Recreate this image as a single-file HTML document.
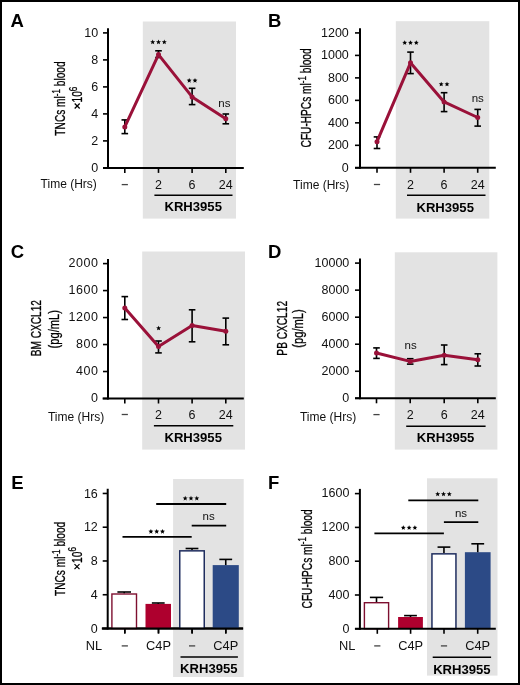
<!DOCTYPE html>
<html><head><meta charset="utf-8"><style>
html,body{margin:0;padding:0;background:#fff;}
.fig{position:relative;width:520px;height:685px;box-sizing:border-box;border:2px solid #000;background:#fff;overflow:hidden;}
svg{position:absolute;left:-2px;top:-2px;}
svg text{font-family:"Liberation Sans", sans-serif;}
svg{will-change:transform;}
</style></head><body>
<div class="fig"><svg width="520" height="685" viewBox="0 0 520 685">
<rect x="142.80" y="21.50" width="93.20" height="197.10" fill="#e3e3e3" stroke="none" stroke-width="0"/>
<text x="10.50" y="26.80" font-size="18.5" text-anchor="start" font-weight="bold" fill="#000" >A</text>
<line x1="108.00" y1="28.20" x2="108.00" y2="168.90" stroke="#000" stroke-width="2.0" stroke-linecap="butt"/>
<line x1="103.00" y1="167.90" x2="108.00" y2="167.90" stroke="#000" stroke-width="1.6" stroke-linecap="butt"/>
<text x="98.10" y="171.64" font-size="12.5" text-anchor="end" font-weight="normal" fill="#111" >0</text>
<line x1="103.00" y1="140.90" x2="108.00" y2="140.90" stroke="#000" stroke-width="1.6" stroke-linecap="butt"/>
<text x="98.10" y="144.64" font-size="12.5" text-anchor="end" font-weight="normal" fill="#111" >2</text>
<line x1="103.00" y1="113.90" x2="108.00" y2="113.90" stroke="#000" stroke-width="1.6" stroke-linecap="butt"/>
<text x="98.10" y="117.64" font-size="12.5" text-anchor="end" font-weight="normal" fill="#111" >4</text>
<line x1="103.00" y1="86.90" x2="108.00" y2="86.90" stroke="#000" stroke-width="1.6" stroke-linecap="butt"/>
<text x="98.10" y="90.64" font-size="12.5" text-anchor="end" font-weight="normal" fill="#111" >6</text>
<line x1="103.00" y1="59.90" x2="108.00" y2="59.90" stroke="#000" stroke-width="1.6" stroke-linecap="butt"/>
<text x="98.10" y="63.64" font-size="12.5" text-anchor="end" font-weight="normal" fill="#111" >8</text>
<line x1="103.00" y1="32.90" x2="108.00" y2="32.90" stroke="#000" stroke-width="1.6" stroke-linecap="butt"/>
<text x="98.10" y="36.64" font-size="12.5" text-anchor="end" font-weight="normal" fill="#111" >10</text>
<line x1="103.00" y1="167.90" x2="243.80" y2="167.90" stroke="#000" stroke-width="2.0" stroke-linecap="butt"/>
<line x1="124.80" y1="167.90" x2="124.80" y2="172.90" stroke="#000" stroke-width="1.6" stroke-linecap="butt"/>
<line x1="158.50" y1="167.90" x2="158.50" y2="172.90" stroke="#000" stroke-width="1.6" stroke-linecap="butt"/>
<line x1="192.10" y1="167.90" x2="192.10" y2="172.90" stroke="#000" stroke-width="1.6" stroke-linecap="butt"/>
<line x1="225.80" y1="167.90" x2="225.80" y2="172.90" stroke="#000" stroke-width="1.6" stroke-linecap="butt"/>
<text x="96.80" y="188.20" font-size="12" text-anchor="end" font-weight="normal" fill="#111" >Time (Hrs)</text>
<line x1="121.70" y1="184.60" x2="127.90" y2="184.60" stroke="#444" stroke-width="1.3" stroke-linecap="butt"/>
<text x="158.50" y="188.80" font-size="12.5" text-anchor="middle" font-weight="normal" fill="#111" >2</text>
<text x="192.10" y="188.80" font-size="12.5" text-anchor="middle" font-weight="normal" fill="#111" >6</text>
<text x="225.80" y="188.80" font-size="12.5" text-anchor="middle" font-weight="normal" fill="#111" >24</text>
<line x1="154.40" y1="195.20" x2="232.50" y2="195.20" stroke="#000" stroke-width="1.5" stroke-linecap="butt"/>
<text x="193.20" y="211.20" font-size="13.1" text-anchor="middle" font-weight="bold" fill="#000" >KRH3955</text>
<line x1="124.80" y1="119.90" x2="124.80" y2="133.60" stroke="#000" stroke-width="1.6" stroke-linecap="butt"/>
<line x1="121.50" y1="119.90" x2="128.10" y2="119.90" stroke="#000" stroke-width="1.6" stroke-linecap="butt"/>
<line x1="121.50" y1="133.60" x2="128.10" y2="133.60" stroke="#000" stroke-width="1.6" stroke-linecap="butt"/>
<line x1="158.50" y1="50.80" x2="158.50" y2="57.50" stroke="#000" stroke-width="1.6" stroke-linecap="butt"/>
<line x1="155.20" y1="50.80" x2="161.80" y2="50.80" stroke="#000" stroke-width="1.6" stroke-linecap="butt"/>
<line x1="155.20" y1="57.50" x2="161.80" y2="57.50" stroke="#000" stroke-width="1.6" stroke-linecap="butt"/>
<line x1="192.10" y1="88.30" x2="192.10" y2="104.60" stroke="#000" stroke-width="1.6" stroke-linecap="butt"/>
<line x1="188.80" y1="88.30" x2="195.40" y2="88.30" stroke="#000" stroke-width="1.6" stroke-linecap="butt"/>
<line x1="188.80" y1="104.60" x2="195.40" y2="104.60" stroke="#000" stroke-width="1.6" stroke-linecap="butt"/>
<line x1="225.80" y1="114.00" x2="225.80" y2="123.80" stroke="#000" stroke-width="1.6" stroke-linecap="butt"/>
<line x1="222.50" y1="114.00" x2="229.10" y2="114.00" stroke="#000" stroke-width="1.6" stroke-linecap="butt"/>
<line x1="222.50" y1="123.80" x2="229.10" y2="123.80" stroke="#000" stroke-width="1.6" stroke-linecap="butt"/>
<path d="M124.80,126.90 L158.50,54.60 L192.10,96.90 L225.80,118.80" fill="none" stroke="#9a1139" stroke-width="3.0" stroke-linejoin="round" stroke-linecap="round"/>
<circle cx="124.80" cy="126.90" r="2.5" fill="#9a1139"/>
<circle cx="158.50" cy="54.60" r="2.5" fill="#9a1139"/>
<circle cx="192.10" cy="96.90" r="2.5" fill="#9a1139"/>
<circle cx="225.80" cy="118.80" r="2.5" fill="#9a1139"/>
<path d="M152.70,39.55 L153.38,41.22 L155.17,41.35 L153.79,42.51 L154.23,44.25 L152.70,43.30 L151.17,44.25 L151.61,42.51 L150.23,41.35 L152.02,41.22Z M158.50,39.55 L159.18,41.22 L160.97,41.35 L159.59,42.51 L160.03,44.25 L158.50,43.30 L156.97,44.25 L157.41,42.51 L156.03,41.35 L157.82,41.22Z M164.30,39.55 L164.98,41.22 L166.77,41.35 L165.39,42.51 L165.83,44.25 L164.30,43.30 L162.77,44.25 L163.21,42.51 L161.83,41.35 L163.62,41.22Z" fill="#000"/>
<path d="M189.20,77.95 L189.88,79.62 L191.67,79.75 L190.29,80.91 L190.73,82.65 L189.20,81.70 L187.67,82.65 L188.11,80.91 L186.73,79.75 L188.52,79.62Z M195.00,77.95 L195.68,79.62 L197.47,79.75 L196.09,80.91 L196.53,82.65 L195.00,81.70 L193.47,82.65 L193.91,80.91 L192.53,79.75 L194.32,79.62Z" fill="#000"/>
<text x="224.40" y="106.60" font-size="11.5" text-anchor="middle" font-weight="normal" fill="#111" >ns</text>
<g transform="translate(64.80,98.50) rotate(-90) scale(0.7,1)">
<text x="0" y="0" font-size="14.5" text-anchor="middle" fill="#000" stroke="#000" stroke-width="0.3"><tspan>TNCs ml</tspan><tspan font-size="11.60" dy="-5.30">-1</tspan><tspan dy="5.30">​</tspan><tspan> blood</tspan></text></g>
<g transform="translate(81.80,94.60) rotate(-90) scale(0.7,1)">
<text x="0" y="0" font-size="14.5" text-anchor="middle" fill="#000" stroke="#000" stroke-width="0.3"><tspan>10</tspan><tspan font-size="11.60" dy="-5.30">6</tspan><tspan dy="5.30">​</tspan></text></g>
<line x1="74.70" y1="103.50" x2="79.70" y2="108.50" stroke="#000" stroke-width="1.25" stroke-linecap="butt"/>
<line x1="74.70" y1="108.50" x2="79.70" y2="103.50" stroke="#000" stroke-width="1.25" stroke-linecap="butt"/>
<rect x="395.80" y="21.20" width="93.50" height="197.40" fill="#e3e3e3" stroke="none" stroke-width="0"/>
<text x="268.00" y="26.80" font-size="18.5" text-anchor="start" font-weight="bold" fill="#000" >B</text>
<line x1="360.00" y1="28.22" x2="360.00" y2="168.80" stroke="#000" stroke-width="2.0" stroke-linecap="butt"/>
<line x1="355.00" y1="167.80" x2="360.00" y2="167.80" stroke="#000" stroke-width="1.6" stroke-linecap="butt"/>
<text x="348.80" y="171.54" font-size="12.5" text-anchor="end" font-weight="normal" fill="#111" >0</text>
<line x1="355.00" y1="145.32" x2="360.00" y2="145.32" stroke="#000" stroke-width="1.6" stroke-linecap="butt"/>
<text x="348.80" y="149.06" font-size="12.5" text-anchor="end" font-weight="normal" fill="#111" >200</text>
<line x1="355.00" y1="122.84" x2="360.00" y2="122.84" stroke="#000" stroke-width="1.6" stroke-linecap="butt"/>
<text x="348.80" y="126.58" font-size="12.5" text-anchor="end" font-weight="normal" fill="#111" >400</text>
<line x1="355.00" y1="100.36" x2="360.00" y2="100.36" stroke="#000" stroke-width="1.6" stroke-linecap="butt"/>
<text x="348.80" y="104.10" font-size="12.5" text-anchor="end" font-weight="normal" fill="#111" >600</text>
<line x1="355.00" y1="77.88" x2="360.00" y2="77.88" stroke="#000" stroke-width="1.6" stroke-linecap="butt"/>
<text x="348.80" y="81.62" font-size="12.5" text-anchor="end" font-weight="normal" fill="#111" >800</text>
<line x1="355.00" y1="55.40" x2="360.00" y2="55.40" stroke="#000" stroke-width="1.6" stroke-linecap="butt"/>
<text x="348.80" y="59.14" font-size="12.5" text-anchor="end" font-weight="normal" fill="#111" >1000</text>
<line x1="355.00" y1="32.92" x2="360.00" y2="32.92" stroke="#000" stroke-width="1.6" stroke-linecap="butt"/>
<text x="348.80" y="36.66" font-size="12.5" text-anchor="end" font-weight="normal" fill="#111" >1200</text>
<line x1="355.00" y1="167.80" x2="495.80" y2="167.80" stroke="#000" stroke-width="2.0" stroke-linecap="butt"/>
<line x1="377.00" y1="167.80" x2="377.00" y2="172.80" stroke="#000" stroke-width="1.6" stroke-linecap="butt"/>
<line x1="410.50" y1="167.80" x2="410.50" y2="172.80" stroke="#000" stroke-width="1.6" stroke-linecap="butt"/>
<line x1="444.10" y1="167.80" x2="444.10" y2="172.80" stroke="#000" stroke-width="1.6" stroke-linecap="butt"/>
<line x1="477.70" y1="167.80" x2="477.70" y2="172.80" stroke="#000" stroke-width="1.6" stroke-linecap="butt"/>
<text x="349.30" y="188.60" font-size="12" text-anchor="end" font-weight="normal" fill="#111" >Time (Hrs)</text>
<line x1="373.90" y1="184.50" x2="380.10" y2="184.50" stroke="#444" stroke-width="1.3" stroke-linecap="butt"/>
<text x="410.50" y="188.60" font-size="12.5" text-anchor="middle" font-weight="normal" fill="#111" >2</text>
<text x="444.10" y="188.60" font-size="12.5" text-anchor="middle" font-weight="normal" fill="#111" >6</text>
<text x="477.70" y="188.60" font-size="12.5" text-anchor="middle" font-weight="normal" fill="#111" >24</text>
<line x1="407.00" y1="195.30" x2="485.50" y2="195.30" stroke="#000" stroke-width="1.5" stroke-linecap="butt"/>
<text x="445.20" y="211.50" font-size="13.1" text-anchor="middle" font-weight="bold" fill="#000" >KRH3955</text>
<line x1="377.00" y1="136.90" x2="377.00" y2="148.50" stroke="#000" stroke-width="1.6" stroke-linecap="butt"/>
<line x1="373.70" y1="136.90" x2="380.30" y2="136.90" stroke="#000" stroke-width="1.6" stroke-linecap="butt"/>
<line x1="373.70" y1="148.50" x2="380.30" y2="148.50" stroke="#000" stroke-width="1.6" stroke-linecap="butt"/>
<line x1="410.50" y1="52.10" x2="410.50" y2="73.60" stroke="#000" stroke-width="1.6" stroke-linecap="butt"/>
<line x1="407.20" y1="52.10" x2="413.80" y2="52.10" stroke="#000" stroke-width="1.6" stroke-linecap="butt"/>
<line x1="407.20" y1="73.60" x2="413.80" y2="73.60" stroke="#000" stroke-width="1.6" stroke-linecap="butt"/>
<line x1="444.10" y1="92.70" x2="444.10" y2="111.60" stroke="#000" stroke-width="1.6" stroke-linecap="butt"/>
<line x1="440.80" y1="92.70" x2="447.40" y2="92.70" stroke="#000" stroke-width="1.6" stroke-linecap="butt"/>
<line x1="440.80" y1="111.60" x2="447.40" y2="111.60" stroke="#000" stroke-width="1.6" stroke-linecap="butt"/>
<line x1="477.70" y1="109.40" x2="477.70" y2="126.10" stroke="#000" stroke-width="1.6" stroke-linecap="butt"/>
<line x1="474.40" y1="109.40" x2="481.00" y2="109.40" stroke="#000" stroke-width="1.6" stroke-linecap="butt"/>
<line x1="474.40" y1="126.10" x2="481.00" y2="126.10" stroke="#000" stroke-width="1.6" stroke-linecap="butt"/>
<path d="M377.00,141.70 L410.50,62.80 L444.10,101.90 L477.70,117.50" fill="none" stroke="#9a1139" stroke-width="3.0" stroke-linejoin="round" stroke-linecap="round"/>
<circle cx="377.00" cy="141.70" r="2.5" fill="#9a1139"/>
<circle cx="410.50" cy="62.80" r="2.5" fill="#9a1139"/>
<circle cx="444.10" cy="101.90" r="2.5" fill="#9a1139"/>
<circle cx="477.70" cy="117.50" r="2.5" fill="#9a1139"/>
<path d="M404.70,40.15 L405.38,41.82 L407.17,41.95 L405.79,43.11 L406.23,44.85 L404.70,43.90 L403.17,44.85 L403.61,43.11 L402.23,41.95 L404.02,41.82Z M410.50,40.15 L411.18,41.82 L412.97,41.95 L411.59,43.11 L412.03,44.85 L410.50,43.90 L408.97,44.85 L409.41,43.11 L408.03,41.95 L409.82,41.82Z M416.30,40.15 L416.98,41.82 L418.77,41.95 L417.39,43.11 L417.83,44.85 L416.30,43.90 L414.77,44.85 L415.21,43.11 L413.83,41.95 L415.62,41.82Z" fill="#000"/>
<path d="M441.20,81.65 L441.88,83.32 L443.67,83.45 L442.29,84.61 L442.73,86.35 L441.20,85.40 L439.67,86.35 L440.11,84.61 L438.73,83.45 L440.52,83.32Z M447.00,81.65 L447.68,83.32 L449.47,83.45 L448.09,84.61 L448.53,86.35 L447.00,85.40 L445.47,86.35 L445.91,84.61 L444.53,83.45 L446.32,83.32Z" fill="#000"/>
<text x="477.80" y="102.20" font-size="11.5" text-anchor="middle" font-weight="normal" fill="#111" >ns</text>
<g transform="translate(311.40,97.90) rotate(-90) scale(0.7,1)">
<text x="0" y="0" font-size="14.5" text-anchor="middle" fill="#000" stroke="#000" stroke-width="0.3"><tspan>CFU-HPCs ml</tspan><tspan font-size="11.60" dy="-5.30">-1</tspan><tspan dy="5.30">​</tspan><tspan> blood</tspan></text></g>
<rect x="142.20" y="251.50" width="102.80" height="198.10" fill="#e3e3e3" stroke="none" stroke-width="0"/>
<text x="10.80" y="258.20" font-size="18.5" text-anchor="start" font-weight="bold" fill="#000" >C</text>
<line x1="108.00" y1="258.90" x2="108.00" y2="399.50" stroke="#000" stroke-width="2.0" stroke-linecap="butt"/>
<line x1="103.00" y1="398.50" x2="108.00" y2="398.50" stroke="#000" stroke-width="1.6" stroke-linecap="butt"/>
<text x="98.60" y="402.24" font-size="12.5" text-anchor="end" font-weight="normal" fill="#111" letter-spacing="0.6">0</text>
<line x1="103.00" y1="371.52" x2="108.00" y2="371.52" stroke="#000" stroke-width="1.6" stroke-linecap="butt"/>
<text x="98.60" y="375.26" font-size="12.5" text-anchor="end" font-weight="normal" fill="#111" letter-spacing="0.6">400</text>
<line x1="103.00" y1="344.54" x2="108.00" y2="344.54" stroke="#000" stroke-width="1.6" stroke-linecap="butt"/>
<text x="98.60" y="348.28" font-size="12.5" text-anchor="end" font-weight="normal" fill="#111" letter-spacing="0.6">800</text>
<line x1="103.00" y1="317.56" x2="108.00" y2="317.56" stroke="#000" stroke-width="1.6" stroke-linecap="butt"/>
<text x="98.60" y="321.30" font-size="12.5" text-anchor="end" font-weight="normal" fill="#111" letter-spacing="0.6">1200</text>
<line x1="103.00" y1="290.58" x2="108.00" y2="290.58" stroke="#000" stroke-width="1.6" stroke-linecap="butt"/>
<text x="98.60" y="294.32" font-size="12.5" text-anchor="end" font-weight="normal" fill="#111" letter-spacing="0.6">1600</text>
<line x1="103.00" y1="263.60" x2="108.00" y2="263.60" stroke="#000" stroke-width="1.6" stroke-linecap="butt"/>
<text x="98.60" y="267.34" font-size="12.5" text-anchor="end" font-weight="normal" fill="#111" letter-spacing="0.6">2000</text>
<line x1="102.60" y1="398.50" x2="243.80" y2="398.50" stroke="#000" stroke-width="2.0" stroke-linecap="butt"/>
<line x1="124.80" y1="398.50" x2="124.80" y2="403.50" stroke="#000" stroke-width="1.6" stroke-linecap="butt"/>
<line x1="158.50" y1="398.50" x2="158.50" y2="403.50" stroke="#000" stroke-width="1.6" stroke-linecap="butt"/>
<line x1="192.10" y1="398.50" x2="192.10" y2="403.50" stroke="#000" stroke-width="1.6" stroke-linecap="butt"/>
<line x1="225.80" y1="398.50" x2="225.80" y2="403.50" stroke="#000" stroke-width="1.6" stroke-linecap="butt"/>
<text x="104.20" y="421.30" font-size="12" text-anchor="end" font-weight="normal" fill="#111" >Time (Hrs)</text>
<line x1="121.70" y1="414.50" x2="127.90" y2="414.50" stroke="#444" stroke-width="1.3" stroke-linecap="butt"/>
<text x="158.50" y="419.40" font-size="12.5" text-anchor="middle" font-weight="normal" fill="#111" >2</text>
<text x="192.10" y="419.40" font-size="12.5" text-anchor="middle" font-weight="normal" fill="#111" >6</text>
<text x="225.80" y="419.40" font-size="12.5" text-anchor="middle" font-weight="normal" fill="#111" >24</text>
<line x1="153.90" y1="425.80" x2="233.30" y2="425.80" stroke="#000" stroke-width="1.5" stroke-linecap="butt"/>
<text x="193.20" y="442.40" font-size="13.1" text-anchor="middle" font-weight="bold" fill="#000" >KRH3955</text>
<line x1="124.80" y1="296.60" x2="124.80" y2="319.50" stroke="#000" stroke-width="1.6" stroke-linecap="butt"/>
<line x1="121.50" y1="296.60" x2="128.10" y2="296.60" stroke="#000" stroke-width="1.6" stroke-linecap="butt"/>
<line x1="121.50" y1="319.50" x2="128.10" y2="319.50" stroke="#000" stroke-width="1.6" stroke-linecap="butt"/>
<line x1="158.50" y1="341.00" x2="158.50" y2="352.90" stroke="#000" stroke-width="1.6" stroke-linecap="butt"/>
<line x1="155.20" y1="341.00" x2="161.80" y2="341.00" stroke="#000" stroke-width="1.6" stroke-linecap="butt"/>
<line x1="155.20" y1="352.90" x2="161.80" y2="352.90" stroke="#000" stroke-width="1.6" stroke-linecap="butt"/>
<line x1="192.10" y1="309.80" x2="192.10" y2="341.80" stroke="#000" stroke-width="1.6" stroke-linecap="butt"/>
<line x1="188.80" y1="309.80" x2="195.40" y2="309.80" stroke="#000" stroke-width="1.6" stroke-linecap="butt"/>
<line x1="188.80" y1="341.80" x2="195.40" y2="341.80" stroke="#000" stroke-width="1.6" stroke-linecap="butt"/>
<line x1="225.80" y1="318.10" x2="225.80" y2="344.80" stroke="#000" stroke-width="1.6" stroke-linecap="butt"/>
<line x1="222.50" y1="318.10" x2="229.10" y2="318.10" stroke="#000" stroke-width="1.6" stroke-linecap="butt"/>
<line x1="222.50" y1="344.80" x2="229.10" y2="344.80" stroke="#000" stroke-width="1.6" stroke-linecap="butt"/>
<path d="M124.80,307.90 L158.50,346.40 L192.10,325.40 L225.80,331.30" fill="none" stroke="#9a1139" stroke-width="3.0" stroke-linejoin="round" stroke-linecap="round"/>
<circle cx="124.80" cy="307.90" r="2.5" fill="#9a1139"/>
<circle cx="158.50" cy="346.40" r="2.5" fill="#9a1139"/>
<circle cx="192.10" cy="325.40" r="2.5" fill="#9a1139"/>
<circle cx="225.80" cy="331.30" r="2.5" fill="#9a1139"/>
<path d="M158.60,325.65 L159.28,327.32 L161.07,327.45 L159.69,328.61 L160.13,330.35 L158.60,329.40 L157.07,330.35 L157.51,328.61 L156.13,327.45 L157.92,327.32Z" fill="#000"/>
<g transform="translate(41.20,328.20) rotate(-90) scale(0.7,1)">
<text x="0" y="0" font-size="14.5" text-anchor="middle" fill="#000" stroke="#000" stroke-width="0.3"><tspan>BM CXCL12</tspan></text></g>
<g transform="translate(58.70,329.20) rotate(-90) scale(0.77,1)">
<text x="0" y="0" font-size="14.5" text-anchor="middle" fill="#000" stroke="#000" stroke-width="0.3"><tspan>(pg/mL)</tspan></text></g>
<rect x="394.80" y="252.30" width="102.60" height="197.30" fill="#e3e3e3" stroke="none" stroke-width="0"/>
<text x="268.00" y="258.20" font-size="18.5" text-anchor="start" font-weight="bold" fill="#000" >D</text>
<line x1="360.00" y1="258.40" x2="360.00" y2="399.30" stroke="#000" stroke-width="2.0" stroke-linecap="butt"/>
<line x1="355.00" y1="398.30" x2="360.00" y2="398.30" stroke="#000" stroke-width="1.6" stroke-linecap="butt"/>
<text x="349.30" y="402.04" font-size="12.5" text-anchor="end" font-weight="normal" fill="#111" >0</text>
<line x1="355.00" y1="371.26" x2="360.00" y2="371.26" stroke="#000" stroke-width="1.6" stroke-linecap="butt"/>
<text x="349.30" y="375.00" font-size="12.5" text-anchor="end" font-weight="normal" fill="#111" >2000</text>
<line x1="355.00" y1="344.22" x2="360.00" y2="344.22" stroke="#000" stroke-width="1.6" stroke-linecap="butt"/>
<text x="349.30" y="347.96" font-size="12.5" text-anchor="end" font-weight="normal" fill="#111" >4000</text>
<line x1="355.00" y1="317.18" x2="360.00" y2="317.18" stroke="#000" stroke-width="1.6" stroke-linecap="butt"/>
<text x="349.30" y="320.92" font-size="12.5" text-anchor="end" font-weight="normal" fill="#111" >6000</text>
<line x1="355.00" y1="290.14" x2="360.00" y2="290.14" stroke="#000" stroke-width="1.6" stroke-linecap="butt"/>
<text x="349.30" y="293.88" font-size="12.5" text-anchor="end" font-weight="normal" fill="#111" >8000</text>
<line x1="355.00" y1="263.10" x2="360.00" y2="263.10" stroke="#000" stroke-width="1.6" stroke-linecap="butt"/>
<text x="349.30" y="266.84" font-size="12.5" text-anchor="end" font-weight="normal" fill="#111" >10000</text>
<line x1="355.00" y1="398.30" x2="495.80" y2="398.30" stroke="#000" stroke-width="2.0" stroke-linecap="butt"/>
<line x1="376.50" y1="398.30" x2="376.50" y2="403.30" stroke="#000" stroke-width="1.6" stroke-linecap="butt"/>
<line x1="410.20" y1="398.30" x2="410.20" y2="403.30" stroke="#000" stroke-width="1.6" stroke-linecap="butt"/>
<line x1="444.20" y1="398.30" x2="444.20" y2="403.30" stroke="#000" stroke-width="1.6" stroke-linecap="butt"/>
<line x1="477.80" y1="398.30" x2="477.80" y2="403.30" stroke="#000" stroke-width="1.6" stroke-linecap="butt"/>
<text x="356.20" y="421.30" font-size="12" text-anchor="end" font-weight="normal" fill="#111" >Time (Hrs)</text>
<line x1="373.40" y1="414.60" x2="379.60" y2="414.60" stroke="#444" stroke-width="1.3" stroke-linecap="butt"/>
<text x="410.20" y="419.40" font-size="12.5" text-anchor="middle" font-weight="normal" fill="#111" >2</text>
<text x="444.20" y="419.40" font-size="12.5" text-anchor="middle" font-weight="normal" fill="#111" >6</text>
<text x="477.80" y="419.40" font-size="12.5" text-anchor="middle" font-weight="normal" fill="#111" >24</text>
<line x1="406.20" y1="426.20" x2="485.60" y2="426.20" stroke="#000" stroke-width="1.5" stroke-linecap="butt"/>
<text x="445.60" y="442.40" font-size="13.1" text-anchor="middle" font-weight="bold" fill="#000" >KRH3955</text>
<line x1="376.50" y1="347.90" x2="376.50" y2="358.40" stroke="#000" stroke-width="1.6" stroke-linecap="butt"/>
<line x1="373.20" y1="347.90" x2="379.80" y2="347.90" stroke="#000" stroke-width="1.6" stroke-linecap="butt"/>
<line x1="373.20" y1="358.40" x2="379.80" y2="358.40" stroke="#000" stroke-width="1.6" stroke-linecap="butt"/>
<line x1="410.20" y1="358.70" x2="410.20" y2="364.10" stroke="#000" stroke-width="1.6" stroke-linecap="butt"/>
<line x1="406.90" y1="358.70" x2="413.50" y2="358.70" stroke="#000" stroke-width="1.6" stroke-linecap="butt"/>
<line x1="406.90" y1="364.10" x2="413.50" y2="364.10" stroke="#000" stroke-width="1.6" stroke-linecap="butt"/>
<line x1="444.20" y1="345.00" x2="444.20" y2="364.60" stroke="#000" stroke-width="1.6" stroke-linecap="butt"/>
<line x1="440.90" y1="345.00" x2="447.50" y2="345.00" stroke="#000" stroke-width="1.6" stroke-linecap="butt"/>
<line x1="440.90" y1="364.60" x2="447.50" y2="364.60" stroke="#000" stroke-width="1.6" stroke-linecap="butt"/>
<line x1="477.80" y1="353.80" x2="477.80" y2="366.00" stroke="#000" stroke-width="1.6" stroke-linecap="butt"/>
<line x1="474.50" y1="353.80" x2="481.10" y2="353.80" stroke="#000" stroke-width="1.6" stroke-linecap="butt"/>
<line x1="474.50" y1="366.00" x2="481.10" y2="366.00" stroke="#000" stroke-width="1.6" stroke-linecap="butt"/>
<path d="M376.50,353.00 L410.20,361.40 L444.20,355.20 L477.80,359.80" fill="none" stroke="#9a1139" stroke-width="3.0" stroke-linejoin="round" stroke-linecap="round"/>
<circle cx="376.50" cy="353.00" r="2.5" fill="#9a1139"/>
<circle cx="410.20" cy="361.40" r="2.5" fill="#9a1139"/>
<circle cx="444.20" cy="355.20" r="2.5" fill="#9a1139"/>
<circle cx="477.80" cy="359.80" r="2.5" fill="#9a1139"/>
<text x="410.60" y="349.30" font-size="11.5" text-anchor="middle" font-weight="normal" fill="#111" >ns</text>
<g transform="translate(287.30,328.30) rotate(-90) scale(0.7,1)">
<text x="0" y="0" font-size="14.5" text-anchor="middle" fill="#000" stroke="#000" stroke-width="0.3"><tspan>PB CXCL12</tspan></text></g>
<g transform="translate(303.20,328.50) rotate(-90) scale(0.77,1)">
<text x="0" y="0" font-size="14.5" text-anchor="middle" fill="#000" stroke="#000" stroke-width="0.3"><tspan>(pg/mL)</tspan></text></g>
<rect x="173.10" y="479.00" width="70.60" height="198.00" fill="#e3e3e3" stroke="none" stroke-width="0"/>
<text x="11.20" y="488.50" font-size="18.5" text-anchor="start" font-weight="bold" fill="#000" >E</text>
<line x1="107.70" y1="488.76" x2="107.70" y2="629.50" stroke="#000" stroke-width="2.0" stroke-linecap="butt"/>
<line x1="102.70" y1="628.50" x2="107.70" y2="628.50" stroke="#000" stroke-width="1.6" stroke-linecap="butt"/>
<text x="97.80" y="632.74" font-size="12.5" text-anchor="end" font-weight="normal" fill="#111" >0</text>
<line x1="102.70" y1="594.74" x2="107.70" y2="594.74" stroke="#000" stroke-width="1.6" stroke-linecap="butt"/>
<text x="97.80" y="598.98" font-size="12.5" text-anchor="end" font-weight="normal" fill="#111" >4</text>
<line x1="102.70" y1="560.98" x2="107.70" y2="560.98" stroke="#000" stroke-width="1.6" stroke-linecap="butt"/>
<text x="97.80" y="565.22" font-size="12.5" text-anchor="end" font-weight="normal" fill="#111" >8</text>
<line x1="102.70" y1="527.22" x2="107.70" y2="527.22" stroke="#000" stroke-width="1.6" stroke-linecap="butt"/>
<text x="97.80" y="531.46" font-size="12.5" text-anchor="end" font-weight="normal" fill="#111" >12</text>
<line x1="102.70" y1="493.46" x2="107.70" y2="493.46" stroke="#000" stroke-width="1.6" stroke-linecap="butt"/>
<text x="97.80" y="497.70" font-size="12.5" text-anchor="end" font-weight="normal" fill="#111" >16</text>
<line x1="101.90" y1="628.50" x2="243.10" y2="628.50" stroke="#000" stroke-width="2.0" stroke-linecap="butt"/>
<line x1="124.80" y1="628.50" x2="124.80" y2="633.50" stroke="#000" stroke-width="1.6" stroke-linecap="butt"/>
<line x1="158.50" y1="628.50" x2="158.50" y2="633.50" stroke="#000" stroke-width="1.6" stroke-linecap="butt"/>
<line x1="192.10" y1="628.50" x2="192.10" y2="633.50" stroke="#000" stroke-width="1.6" stroke-linecap="butt"/>
<line x1="225.80" y1="628.50" x2="225.80" y2="633.50" stroke="#000" stroke-width="1.6" stroke-linecap="butt"/>
<rect x="111.90" y="594.00" width="24.60" height="34.50" fill="#fff" stroke="#7e0f30" stroke-width="1.4"/>
<line x1="124.20" y1="592.00" x2="124.20" y2="593.30" stroke="#000" stroke-width="1.6" stroke-linecap="butt"/>
<line x1="117.40" y1="592.00" x2="131.00" y2="592.00" stroke="#000" stroke-width="1.6" stroke-linecap="butt"/>
<rect x="145.50" y="603.90" width="25.50" height="24.60" fill="#ae002e" stroke="none" stroke-width="0"/>
<line x1="158.25" y1="603.00" x2="158.25" y2="603.90" stroke="#000" stroke-width="1.6" stroke-linecap="butt"/>
<line x1="151.85" y1="603.00" x2="164.65" y2="603.00" stroke="#000" stroke-width="1.6" stroke-linecap="butt"/>
<rect x="179.75" y="550.85" width="24.50" height="77.65" fill="#fff" stroke="#1f2d5e" stroke-width="1.5"/>
<line x1="192.00" y1="548.50" x2="192.00" y2="550.10" stroke="#000" stroke-width="1.6" stroke-linecap="butt"/>
<line x1="185.60" y1="548.50" x2="198.40" y2="548.50" stroke="#000" stroke-width="1.6" stroke-linecap="butt"/>
<rect x="212.70" y="565.10" width="26.10" height="63.40" fill="#2c4a86" stroke="none" stroke-width="0"/>
<line x1="225.75" y1="559.40" x2="225.75" y2="565.10" stroke="#000" stroke-width="1.6" stroke-linecap="butt"/>
<line x1="219.35" y1="559.40" x2="232.15" y2="559.40" stroke="#000" stroke-width="1.6" stroke-linecap="butt"/>
<line x1="101.90" y1="628.50" x2="243.10" y2="628.50" stroke="#000" stroke-width="2.0" stroke-linecap="butt"/>
<line x1="124.80" y1="628.50" x2="124.80" y2="633.50" stroke="#000" stroke-width="1.6" stroke-linecap="butt"/>
<line x1="158.50" y1="628.50" x2="158.50" y2="633.50" stroke="#000" stroke-width="1.6" stroke-linecap="butt"/>
<line x1="192.10" y1="628.50" x2="192.10" y2="633.50" stroke="#000" stroke-width="1.6" stroke-linecap="butt"/>
<line x1="225.80" y1="628.50" x2="225.80" y2="633.50" stroke="#000" stroke-width="1.6" stroke-linecap="butt"/>
<line x1="156.20" y1="504.00" x2="226.20" y2="504.00" stroke="#000" stroke-width="1.8" stroke-linecap="butt"/>
<path d="M185.20,495.75 L185.88,497.42 L187.67,497.55 L186.29,498.71 L186.73,500.45 L185.20,499.50 L183.67,500.45 L184.11,498.71 L182.73,497.55 L184.52,497.42Z M191.00,495.75 L191.68,497.42 L193.47,497.55 L192.09,498.71 L192.53,500.45 L191.00,499.50 L189.47,500.45 L189.91,498.71 L188.53,497.55 L190.32,497.42Z M196.80,495.75 L197.48,497.42 L199.27,497.55 L197.89,498.71 L198.33,500.45 L196.80,499.50 L195.27,500.45 L195.71,498.71 L194.33,497.55 L196.12,497.42Z" fill="#000"/>
<line x1="191.70" y1="525.60" x2="226.20" y2="525.60" stroke="#000" stroke-width="1.8" stroke-linecap="butt"/>
<text x="208.70" y="519.90" font-size="11.5" text-anchor="middle" font-weight="normal" fill="#111" >ns</text>
<line x1="122.50" y1="536.90" x2="191.70" y2="536.90" stroke="#000" stroke-width="1.8" stroke-linecap="butt"/>
<path d="M150.90,528.95 L151.58,530.62 L153.37,530.75 L151.99,531.91 L152.43,533.65 L150.90,532.70 L149.37,533.65 L149.81,531.91 L148.43,530.75 L150.22,530.62Z M156.70,528.95 L157.38,530.62 L159.17,530.75 L157.79,531.91 L158.23,533.65 L156.70,532.70 L155.17,533.65 L155.61,531.91 L154.23,530.75 L156.02,530.62Z M162.50,528.95 L163.18,530.62 L164.97,530.75 L163.59,531.91 L164.03,533.65 L162.50,532.70 L160.97,533.65 L161.41,531.91 L160.03,530.75 L161.82,530.62Z" fill="#000"/>
<text x="102.00" y="649.70" font-size="12.8" text-anchor="end" font-weight="normal" fill="#111" >NL</text>
<line x1="121.70" y1="645.90" x2="127.90" y2="645.90" stroke="#444" stroke-width="1.3" stroke-linecap="butt"/>
<text x="158.50" y="649.70" font-size="12.8" text-anchor="middle" font-weight="normal" fill="#111" >C4P</text>
<line x1="189.00" y1="645.90" x2="195.20" y2="645.90" stroke="#444" stroke-width="1.3" stroke-linecap="butt"/>
<text x="225.80" y="649.70" font-size="12.8" text-anchor="middle" font-weight="normal" fill="#111" >C4P</text>
<line x1="180.50" y1="657.00" x2="237.90" y2="657.00" stroke="#000" stroke-width="1.5" stroke-linecap="butt"/>
<text x="208.80" y="673.30" font-size="13.1" text-anchor="middle" font-weight="bold" fill="#000" >KRH3955</text>
<g transform="translate(65.00,558.90) rotate(-90) scale(0.7,1)">
<text x="0" y="0" font-size="14.5" text-anchor="middle" fill="#000" stroke="#000" stroke-width="0.3"><tspan>TNCs ml</tspan><tspan font-size="11.60" dy="-5.30">-1</tspan><tspan dy="5.30">​</tspan><tspan> blood</tspan></text></g>
<g transform="translate(81.60,555.00) rotate(-90) scale(0.7,1)">
<text x="0" y="0" font-size="14.5" text-anchor="middle" fill="#000" stroke="#000" stroke-width="0.3"><tspan>10</tspan><tspan font-size="11.60" dy="-5.30">6</tspan><tspan dy="5.30">​</tspan></text></g>
<line x1="74.50" y1="564.10" x2="79.50" y2="569.10" stroke="#000" stroke-width="1.25" stroke-linecap="butt"/>
<line x1="74.50" y1="569.10" x2="79.50" y2="564.10" stroke="#000" stroke-width="1.25" stroke-linecap="butt"/>
<rect x="427.00" y="478.30" width="70.50" height="197.30" fill="#e3e3e3" stroke="none" stroke-width="0"/>
<text x="268.00" y="488.50" font-size="18.5" text-anchor="start" font-weight="bold" fill="#000" >F</text>
<line x1="359.90" y1="488.90" x2="359.90" y2="629.80" stroke="#000" stroke-width="2.0" stroke-linecap="butt"/>
<line x1="354.90" y1="628.80" x2="359.90" y2="628.80" stroke="#000" stroke-width="1.6" stroke-linecap="butt"/>
<text x="349.40" y="632.54" font-size="12.5" text-anchor="end" font-weight="normal" fill="#111" >0</text>
<line x1="354.90" y1="595.00" x2="359.90" y2="595.00" stroke="#000" stroke-width="1.6" stroke-linecap="butt"/>
<text x="349.40" y="598.74" font-size="12.5" text-anchor="end" font-weight="normal" fill="#111" >400</text>
<line x1="354.90" y1="561.20" x2="359.90" y2="561.20" stroke="#000" stroke-width="1.6" stroke-linecap="butt"/>
<text x="349.40" y="564.94" font-size="12.5" text-anchor="end" font-weight="normal" fill="#111" >800</text>
<line x1="354.90" y1="527.40" x2="359.90" y2="527.40" stroke="#000" stroke-width="1.6" stroke-linecap="butt"/>
<text x="349.40" y="531.14" font-size="12.5" text-anchor="end" font-weight="normal" fill="#111" >1200</text>
<line x1="354.90" y1="493.60" x2="359.90" y2="493.60" stroke="#000" stroke-width="1.6" stroke-linecap="butt"/>
<text x="349.40" y="497.34" font-size="12.5" text-anchor="end" font-weight="normal" fill="#111" >1600</text>
<rect x="364.40" y="602.70" width="24.20" height="26.10" fill="#fff" stroke="#7e0f30" stroke-width="1.4"/>
<line x1="376.50" y1="597.40" x2="376.50" y2="602.00" stroke="#000" stroke-width="1.6" stroke-linecap="butt"/>
<line x1="369.90" y1="597.40" x2="383.10" y2="597.40" stroke="#000" stroke-width="1.6" stroke-linecap="butt"/>
<rect x="398.10" y="617.00" width="24.80" height="11.80" fill="#ae002e" stroke="none" stroke-width="0"/>
<line x1="410.50" y1="615.60" x2="410.50" y2="617.00" stroke="#000" stroke-width="1.6" stroke-linecap="butt"/>
<line x1="404.10" y1="615.60" x2="416.90" y2="615.60" stroke="#000" stroke-width="1.6" stroke-linecap="butt"/>
<rect x="431.95" y="553.85" width="24.00" height="74.95" fill="#fff" stroke="#1f2d5e" stroke-width="1.5"/>
<line x1="443.95" y1="547.10" x2="443.95" y2="553.10" stroke="#000" stroke-width="1.6" stroke-linecap="butt"/>
<line x1="437.55" y1="547.10" x2="450.35" y2="547.10" stroke="#000" stroke-width="1.6" stroke-linecap="butt"/>
<rect x="464.90" y="552.20" width="25.70" height="76.60" fill="#2c4a86" stroke="none" stroke-width="0"/>
<line x1="477.75" y1="543.80" x2="477.75" y2="552.20" stroke="#000" stroke-width="1.6" stroke-linecap="butt"/>
<line x1="471.35" y1="543.80" x2="484.15" y2="543.80" stroke="#000" stroke-width="1.6" stroke-linecap="butt"/>
<line x1="355.00" y1="628.80" x2="495.80" y2="628.80" stroke="#000" stroke-width="2.0" stroke-linecap="butt"/>
<line x1="377.30" y1="628.80" x2="377.30" y2="633.80" stroke="#000" stroke-width="1.6" stroke-linecap="butt"/>
<line x1="410.60" y1="628.80" x2="410.60" y2="633.80" stroke="#000" stroke-width="1.6" stroke-linecap="butt"/>
<line x1="444.00" y1="628.80" x2="444.00" y2="633.80" stroke="#000" stroke-width="1.6" stroke-linecap="butt"/>
<line x1="477.70" y1="628.80" x2="477.70" y2="633.80" stroke="#000" stroke-width="1.6" stroke-linecap="butt"/>
<line x1="408.30" y1="500.30" x2="478.30" y2="500.30" stroke="#000" stroke-width="1.8" stroke-linecap="butt"/>
<path d="M437.70,491.55 L438.38,493.22 L440.17,493.35 L438.79,494.51 L439.23,496.25 L437.70,495.30 L436.17,496.25 L436.61,494.51 L435.23,493.35 L437.02,493.22Z M443.50,491.55 L444.18,493.22 L445.97,493.35 L444.59,494.51 L445.03,496.25 L443.50,495.30 L441.97,496.25 L442.41,494.51 L441.03,493.35 L442.82,493.22Z M449.30,491.55 L449.98,493.22 L451.77,493.35 L450.39,494.51 L450.83,496.25 L449.30,495.30 L447.77,496.25 L448.21,494.51 L446.83,493.35 L448.62,493.22Z" fill="#000"/>
<line x1="443.90" y1="522.10" x2="478.30" y2="522.10" stroke="#000" stroke-width="1.8" stroke-linecap="butt"/>
<text x="461.00" y="516.70" font-size="11.5" text-anchor="middle" font-weight="normal" fill="#111" >ns</text>
<line x1="374.40" y1="533.40" x2="443.90" y2="533.40" stroke="#000" stroke-width="1.8" stroke-linecap="butt"/>
<path d="M403.30,525.15 L403.98,526.82 L405.77,526.95 L404.39,528.11 L404.83,529.85 L403.30,528.90 L401.77,529.85 L402.21,528.11 L400.83,526.95 L402.62,526.82Z M409.10,525.15 L409.78,526.82 L411.57,526.95 L410.19,528.11 L410.63,529.85 L409.10,528.90 L407.57,529.85 L408.01,528.11 L406.63,526.95 L408.42,526.82Z M414.90,525.15 L415.58,526.82 L417.37,526.95 L415.99,528.11 L416.43,529.85 L414.90,528.90 L413.37,529.85 L413.81,528.11 L412.43,526.95 L414.22,526.82Z" fill="#000"/>
<text x="355.40" y="649.70" font-size="12.8" text-anchor="end" font-weight="normal" fill="#111" >NL</text>
<line x1="374.20" y1="645.90" x2="380.40" y2="645.90" stroke="#444" stroke-width="1.3" stroke-linecap="butt"/>
<text x="410.60" y="649.70" font-size="12.8" text-anchor="middle" font-weight="normal" fill="#111" >C4P</text>
<line x1="440.90" y1="645.90" x2="447.10" y2="645.90" stroke="#444" stroke-width="1.3" stroke-linecap="butt"/>
<text x="477.70" y="649.70" font-size="12.8" text-anchor="middle" font-weight="normal" fill="#111" >C4P</text>
<line x1="432.70" y1="657.30" x2="491.10" y2="657.30" stroke="#000" stroke-width="1.5" stroke-linecap="butt"/>
<text x="461.90" y="673.60" font-size="13.1" text-anchor="middle" font-weight="bold" fill="#000" >KRH3955</text>
<g transform="translate(311.60,558.90) rotate(-90) scale(0.7,1)">
<text x="0" y="0" font-size="14.5" text-anchor="middle" fill="#000" stroke="#000" stroke-width="0.3"><tspan>CFU-HPCs ml</tspan><tspan font-size="11.60" dy="-5.30">-1</tspan><tspan dy="5.30">​</tspan><tspan> blood</tspan></text></g>
</svg></div>
</body></html>
